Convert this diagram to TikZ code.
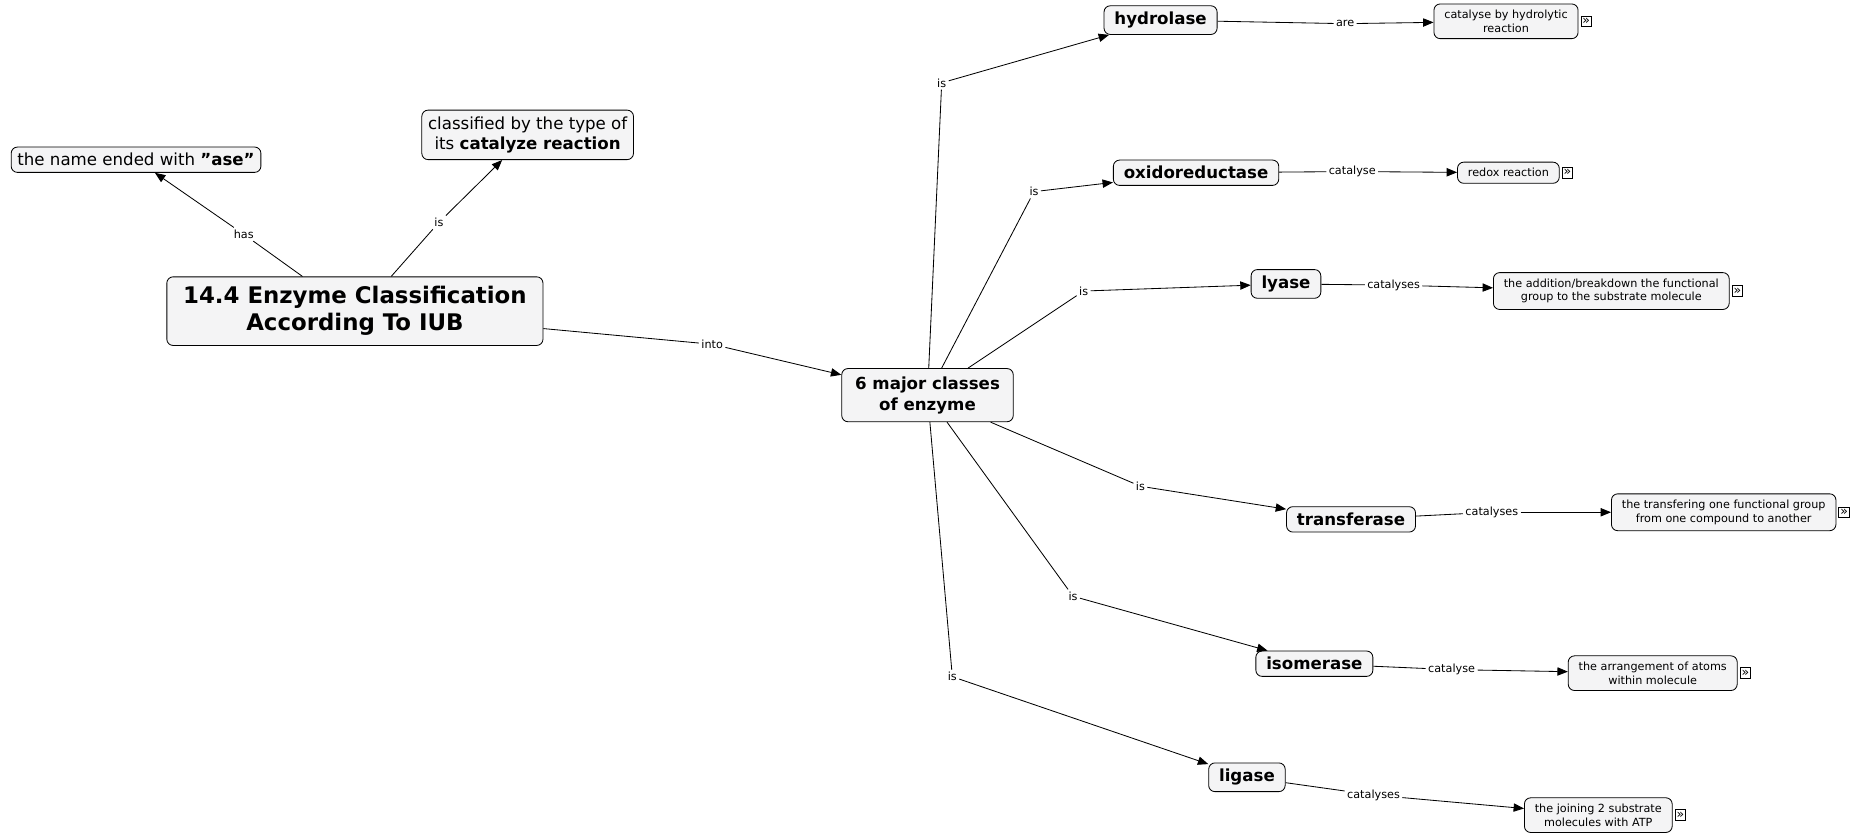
\documentclass[tikz,border=0pt]{standalone}
\usepackage{fontspec}
\setmainfont{DejaVu Sans}
\usetikzlibrary{positioning,arrows.meta}
\begin{document}
\begin{tikzpicture}[x=0.02cm,y=-0.02cm,
  box/.style={draw=black,fill=blue!3!gray!8,rounded corners=3pt,align=center,inner sep=3pt},
  big/.style={box,font=\bfseries\fontsize{11}{13}\selectfont,minimum width=6.36cm,minimum height=1.16cm},
  mid/.style={box,font=\bfseries\fontsize{8}{10}\selectfont,inner xsep=5pt},
  norm/.style={box,font=\fontsize{8}{10}\selectfont},
  leaf/.style={box,font=\fontsize{5.4}{6.5}\selectfont,inner xsep=5pt},
  lbl/.style={font=\fontsize{5.4}{6.5}\selectfont,inner sep=1pt},
  icon/.style={draw,fill=white,inner sep=0pt,minimum size=0.18cm,font=\fontsize{6}{6}\selectfont},
  arr/.style={-{Triangle[length=5pt,width=4pt]}}]
\useasboundingbox (0,0) rectangle (1568,708);
\node[big] (main) at (300,263) {14.4 Enzyme Classification\\According To IUB};
\node[norm] (name) at (115,135) {the name ended with \textbf{"ase"}};
\node[norm] (cls) at (446,114) {classified by the type of\\its \textbf{catalyze reaction}};
\node[mid,minimum width=2.9cm,minimum height=0.9cm] (six) at (784,334) {6 major classes\\of enzyme};
\node[mid] (hyd) at (981,17) {hydrolase};
\node[mid] (oxi) at (1011,146) {oxidoreductase};
\node[mid] (lya) at (1087,240) {lyase};
\node[mid] (tra) at (1142,439) {transferase};
\node[mid] (iso) at (1111,561) {isomerase};
\node[mid] (lig) at (1054,657) {ligase};
\node[leaf] (l1) at (1273,18) {catalyse by hydrolytic\\reaction};
\node[leaf] (l2) at (1275,146) {redox reaction};
\node[leaf] (l3) at (1362,246) {the addition/breakdown the functional\\group to the substrate molecule};
\node[leaf] (l4) at (1457,433) {the transfering one functional group\\from one compound to another};
\node[leaf] (l5) at (1397,569) {the arrangement of atoms\\within molecule};
\node[leaf] (l6) at (1351,689) {the joining 2 substrate\\molecules with ATP};
\foreach \l in {l1,l2,l3,l4,l5,l6}
  \node[icon,anchor=west] (i\l) at ([xshift=1pt]\l.east) {»};
\node[lbl] (e1) at (206,198) {has};
\node[lbl] (e2) at (371,188) {is};
\node[lbl] (e3) at (602,291) {into};
\node[lbl] (e4) at (796,70) {is};
\node[lbl] (e5) at (874,162) {is};
\node[lbl] (e6) at (916,246) {is};
\node[lbl] (e7) at (964,411) {is};
\node[lbl] (e8) at (907,504) {is};
\node[lbl] (e9) at (805,572) {is};
\node[lbl] (f1) at (1137,20) {are};
\node[lbl] (f2) at (1143,145) {catalyse};
\node[lbl] (f3) at (1178,241) {catalyses};
\node[lbl] (f4) at (1261,433) {catalyses};
\node[lbl] (f5) at (1227,566) {catalyse};
\node[lbl] (f6) at (1161,672) {catalyses};
\draw (main.north west)+(115,0) coordinate (mA);
\draw (mA) -- (e1); \draw[arr] (e1) -- (name);
\draw (main.north west)+(190,0) coordinate (mB);
\draw (mB) -- (e2); \draw[arr] (e2) -- (cls);
\draw (main) -- (e3); \draw[arr] (e3) -- (six);
\foreach \e/\t in {e4/hyd,e5/oxi,e6/lya,e7/tra,e8/iso,e9/lig}{
  \draw (six) -- (\e); \draw[arr] (\e) -- (\t);}
\foreach \s/\e/\t in {hyd/f1/l1,oxi/f2/l2,lya/f3/l3,tra/f4/l4,iso/f5/l5,lig/f6/l6}{
  \draw (\s) -- (\e); \draw[arr] (\e) -- (\t);}
\end{tikzpicture}
\end{document}
